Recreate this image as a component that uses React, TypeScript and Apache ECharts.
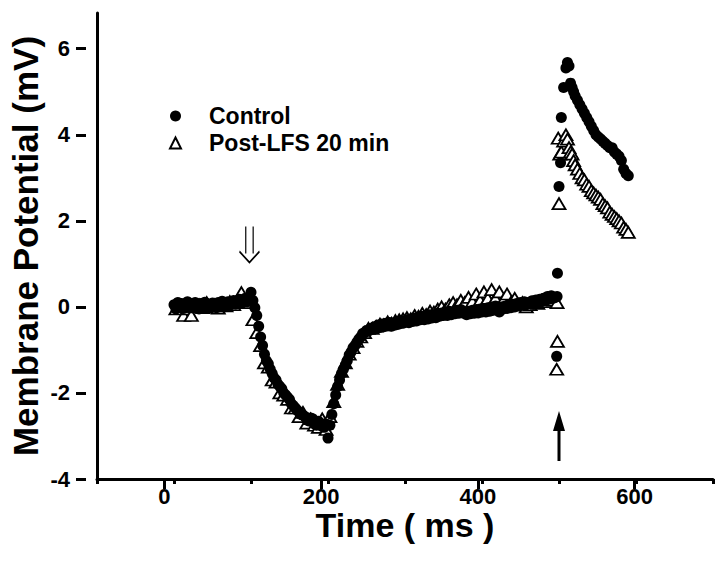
import React, { useEffect, useRef } from "react";
import * as echarts from "echarts";

// ---- data ----
const X_MIN = -100;
const X_MAX = 700;
const Y_MIN = -4;
const Y_MAX = 6.83;
const X_TICK_LABELS = [0, 200, 400, 600];
const Y_TICK_LABELS = [-4, -2, 0, 2, 4, 6];

// Control, sampled every 2.5 ms from 0 to 497.5 ms
const ctrlStep = 2.5;
const ctrlStart = 0;
const ctrlBase = [
  // 0 - 100
  0.05, -0.05, 0.1, 0.0, 0.08, -0.04, 0.06, 0.12, -0.02, 0.07,
  0.0, 0.1, 0.03, -0.05, 0.08, 0.02, 0.11, -0.03, 0.06, 0.0,
  0.09, 0.04, -0.02, 0.1, 0.05, 0.13, 0.0, 0.08, 0.12, 0.04,
  0.1, 0.15, 0.06, 0.12, 0.18, 0.08, 0.14, 0.2, 0.12, 0.22,
  0.34,
  // 102.5 - 200
  0.15, -0.02, -0.2, -0.45, -0.7, -0.9, -1.1, -1.25, -1.32, -1.45,
  -1.55, -1.65, -1.7, -1.8, -1.85, -1.9, -2.0, -2.05, -2.1, -2.15,
  -2.25, -2.3, -2.35, -2.4, -2.45, -2.5, -2.52, -2.55, -2.62, -2.65,
  -2.58, -2.6, -2.72, -2.75, -2.66, -2.7, -2.78, -2.8, -2.72, -3.05,
  // 202.5 - 300
  -2.75, -2.5, -2.25, -2.05, -1.85, -1.7, -1.55, -1.45, -1.35, -1.25,
  -1.12, -1.05, -0.95, -0.9, -0.82, -0.75, -0.7, -0.62, -0.6, -0.55,
  -0.56, -0.5, -0.52, -0.46, -0.5, -0.42, -0.48, -0.4, -0.46, -0.38,
  -0.44, -0.36, -0.45, -0.38, -0.42, -0.34, -0.4, -0.32, -0.38, -0.35,
  // 302.5 - 400
  -0.3, -0.37, -0.28, -0.34, -0.26, -0.33, -0.24, -0.3, -0.22, -0.3,
  -0.2, -0.28, -0.18, -0.26, -0.2, -0.25, -0.15, -0.22, -0.14, -0.2,
  -0.12, -0.2, -0.1, -0.18, -0.12, -0.16, -0.08, -0.15, -0.06, -0.14,
  -0.12, -0.18, -0.1, -0.16, -0.08, -0.15, -0.06, -0.14, -0.05, -0.12,
  // 402.5 - 497.5
  -0.04, -0.12, -0.02, -0.1, 0.0, -0.08, 0.02, -0.06, -0.12, 0.0,
  -0.05, 0.02, -0.04, 0.05, -0.02, 0.06, 0.0, 0.08, 0.02, 0.1,
  0.04, 0.12, 0.05, 0.1, 0.08, 0.14, 0.06, 0.16, 0.1, 0.18,
  0.12, 0.2, 0.15, 0.24, 0.18, 0.26, 0.2, 0.22, 0.24,
];
// Control after the second stimulus: [time ms, mV]
const ctrlPeak = [
  [497, -1.15], [498, 0.78], [500, 2.8], [502, 3.35], [503, 4.4], [506, 5.1],
  [509, 5.55], [511, 5.68], [513, 5.6], [515, 5.2], [517, 5.1], [519, 5.0],
  [521, 4.9], [524, 4.8], [527, 4.7], [530, 4.6], [533, 4.5], [536, 4.4],
  [539, 4.3], [542, 4.2], [545, 4.1], [548, 4.0], [551, 3.95], [554, 3.9],
  [557, 3.85], [560, 3.8], [563, 3.75], [566, 3.7], [569, 3.7], [572, 3.6],
  [575, 3.55], [578, 3.5], [581, 3.4], [584, 3.2], [587, 3.1], [590, 3.05],
];

// Post-LFS 20 min, sampled every 5 ms from 2.5 to 497.5 ms
const postStep = 5;
const postStart = 2.5;
const postBase = [
  -0.05, 0.05, -0.2, -0.05, -0.2, 0.0, 0.05, -0.02, 0.1, 0.0,
  0.05, -0.03, 0.08, 0.02, 0.12, 0.05, 0.15, 0.33, 0.1, 0.2,
  -0.3, -0.6, -0.9, -1.3, -1.4, -1.7, -1.75, -2.0, -2.05, -2.15,
  -2.35, -2.35, -2.55, -2.45, -2.7, -2.6, -2.75, -2.8, -2.6, -2.85,
  -2.55, -2.2, -1.8, -1.5, -1.3, -1.1, -0.95, -0.8, -0.7, -0.6,
  -0.5, -0.5, -0.45, -0.4, -0.42, -0.35, -0.38, -0.32, -0.3, -0.28,
  -0.25, -0.28, -0.2, -0.22, -0.15, -0.18, -0.1, -0.12, -0.05, 0.0,
  -0.05, 0.05, 0.1, 0.05, 0.15, 0.1, 0.22, 0.12, 0.3, 0.15,
  0.35, 0.2, 0.4, 0.2, 0.35, 0.15, 0.3, 0.1, 0.2, 0.05,
  0.1, 0.0, 0.05, 0.1, 0.08, 0.15, 0.12, 0.2, 0.15, 0.1,
];
const postPeak = [
  [497, -1.45], [498, -0.8], [500, 2.4], [501, 3.55], [499, 3.92], [503, 3.6],
  [506, 3.85], [509, 4.0], [511, 3.9], [513, 3.7], [515, 3.6], [517, 3.55],
  [519, 3.4], [521, 3.3], [524, 3.2], [527, 3.1], [530, 3.0], [533, 2.95],
  [536, 2.85], [539, 2.8], [542, 2.7], [545, 2.65], [548, 2.6], [551, 2.55],
  [554, 2.5], [557, 2.4], [560, 2.35], [563, 2.3], [566, 2.2], [569, 2.15],
  [572, 2.1], [575, 2.05], [578, 2.0], [581, 1.95], [584, 1.85], [587, 1.8],
  [590, 1.73],
];

// stimulus arrows: [time ms, mV at arrow centre]
const stim1 = [98, 1.45];
const stim2 = [500, -3.0];

const FONT = "'Liberation Sans', Arial, Helvetica, sans-serif";

export default function App() {
  const ref = useRef<HTMLDivElement>(null);

  useEffect(() => {
    document.body.style.margin = "0";
    const chart = echarts.init(ref.current!, null, { renderer: "svg" });

    const W = 720, H = 568;
    const GL = 86, GR = 7, GT = 13, GB = 89;
    const px = (v: number) => GL + ((v - X_MIN) / (X_MAX - X_MIN)) * (W - GL - GR);
    const py = (v: number) => GT + ((Y_MAX - v) / (Y_MAX - Y_MIN)) * (H - GT - GB);

    const xLabMin = X_TICK_LABELS[0];
    const xLabMax = X_TICK_LABELS[X_TICK_LABELS.length - 1];
    const yLabMin = Y_TICK_LABELS[0];
    const yLabMax = Y_TICK_LABELS[Y_TICK_LABELS.length - 1];

    const ctrlData = ctrlBase
      .map((v, i) => [ctrlStart + i * ctrlStep, v])
      .concat(ctrlPeak);
    const postData = postBase
      .map((v, i) => [postStart + i * postStep, v])
      .concat(postPeak);

    const black = "#000";

    chart.setOption({
      animation: false,
      backgroundColor: "#fff",
      textStyle: { fontFamily: FONT, fontWeight: "bold", color: black },
      grid: [
        { left: GL, right: GR, top: GT, bottom: GB },
        { left: px(xLabMin), right: W - px(xLabMax), top: GT, bottom: GB },
        { left: GL, right: GR, top: py(yLabMax), bottom: H - py(yLabMin) },
      ],
      xAxis: [
        {
          gridIndex: 0,
          type: "value",
          min: X_MIN,
          max: X_MAX,
          interval: 100,
          name: "Time ( ms )",
          nameLocation: "middle",
          nameGap: 29,
          nameTextStyle: {
            color: black,
            fontFamily: FONT,
            fontWeight: "bold",
            fontSize: 34,
          },
          axisLine: { onZero: false, lineStyle: { color: black, width: 3 } },
          axisTick: { length: 5, lineStyle: { color: black, width: 3 } },
          axisLabel: { show: false },
          splitLine: { show: false },
        },
        {
          gridIndex: 1,
          type: "value",
          min: xLabMin,
          max: xLabMax,
          interval: 200,
          axisLine: { show: false, onZero: false },
          axisTick: { length: 10, lineStyle: { color: black, width: 3 } },
          axisLabel: {
            show: true,
            color: black,
            fontFamily: FONT,
            fontWeight: "bold",
            fontSize: 22,
            margin: 6,
          },
          splitLine: { show: false },
        },
        {
          gridIndex: 2,
          type: "value",
          min: X_MIN,
          max: X_MAX,
          show: false,
        },
      ],
      yAxis: [
        {
          gridIndex: 0,
          type: "value",
          min: Y_MIN,
          max: Y_MAX,
          name: "Membrane Potential (mV)",
          nameLocation: "middle",
          nameGap: 54,
          nameTextStyle: {
            color: black,
            fontFamily: FONT,
            fontWeight: "bold",
            fontSize: 35,
          },
          axisLine: { onZero: false, lineStyle: { color: black, width: 3 } },
          axisTick: { show: false },
          axisLabel: { show: false },
          splitLine: { show: false },
        },
        {
          gridIndex: 1,
          type: "value",
          min: Y_MIN,
          max: Y_MAX,
          show: false,
        },
        {
          gridIndex: 2,
          type: "value",
          min: yLabMin,
          max: yLabMax,
          interval: 2,
          axisLine: { show: false, onZero: false },
          axisTick: { length: 10, lineStyle: { color: black, width: 3 } },
          axisLabel: {
            show: true,
            color: black,
            fontFamily: FONT,
            fontWeight: "bold",
            fontSize: 22,
            margin: 16,
          },
          splitLine: { show: false },
        },
      ],
      legend: {
        orient: "vertical",
        left: 164,
        top: 99,
        itemWidth: 11,
        itemHeight: 11,
        itemGap: 3,
        data: ["Control", "Post-LFS 20 min"],
        textStyle: {
          color: black,
          fontFamily: FONT,
          fontWeight: "bold",
          fontSize: 23,
          lineHeight: 24,
          padding: [0, 0, 0, 23],
        },
      },
      series: [
        {
          name: "Post-LFS 20 min",
          type: "scatter",
          xAxisIndex: 0,
          yAxisIndex: 0,
          symbol: "triangle",
          symbolSize: [13, 11],
          itemStyle: {
            color: "#fff",
            borderColor: black,
            borderWidth: 1.8,
            opacity: 1,
          },
          data: postData,
          z: 2,
        },
        {
          name: "Control",
          type: "scatter",
          xAxisIndex: 0,
          yAxisIndex: 0,
          symbol: "circle",
          symbolSize: 11,
          itemStyle: { color: black, opacity: 1 },
          data: ctrlData,
          z: 3,
          markPoint: {
            label: { show: false },
            data: [
              {
                coord: stim1,
                symbol:
                  "path://M6.3 0 L6.3 27 M13.7 0 L13.7 27 M0 25 L10 36 L20 25",
                symbolSize: [20, 36],
                itemStyle: {
                  color: "rgba(0,0,0,0)",
                  borderColor: black,
                  borderWidth: 1.6,
                  opacity: 1,
                },
              },
              {
                coord: stim2,
                symbol:
                  "path://M4.5 20 L4.5 50 L7.5 50 L7.5 20 L12 20 L6 0 L0 20 Z",
                symbolSize: [12, 50],
                itemStyle: { color: black, borderWidth: 0, opacity: 1 },
              },
            ],
          },
        },
      ],
    });

    return () => chart.dispose();
  }, []);

  return <div ref={ref} style={{ width: 720, height: 568 }} />;
}
